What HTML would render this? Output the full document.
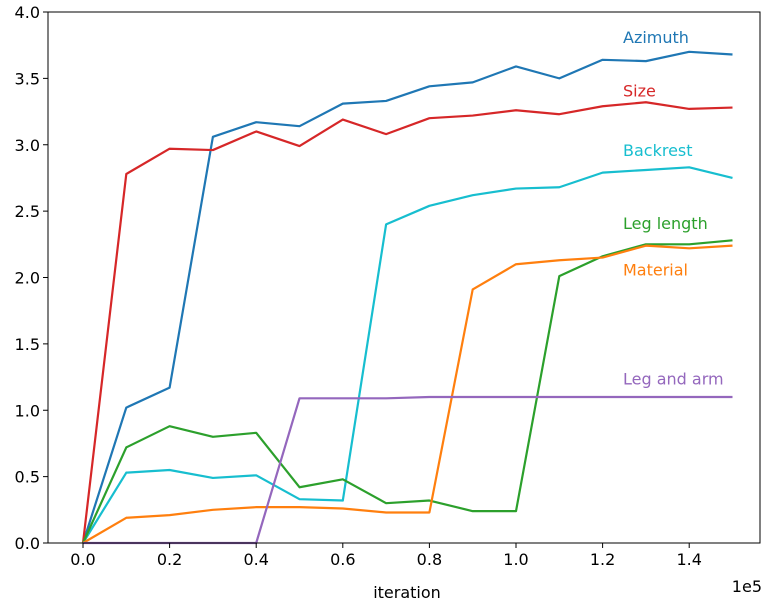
<!DOCTYPE html>
<html><head><meta charset="utf-8"><style>
body{margin:0;background:#fff;}
svg{font-family:"DejaVu Sans","Liberation Sans",sans-serif;}
</style></head><body>
<svg id="chart" width="775" height="610" viewBox="0 0 775 610" xmlns="http://www.w3.org/2000/svg"></svg>
<script>
const iterations=[0,0.1,0.2,0.3,0.4,0.5,0.6,0.7,0.8,0.9,1.0,1.1,1.2,1.3,1.4,1.5];
const azimuth=[0,1.02,1.17,3.06,3.17,3.14,3.31,3.33,3.44,3.47,3.59,3.50,3.64,3.63,3.70,3.68];
const size=[0,2.78,2.97,2.96,3.10,2.99,3.19,3.08,3.20,3.22,3.26,3.23,3.29,3.32,3.27,3.28];
const backrest=[0,0.53,0.55,0.49,0.51,0.33,0.32,2.40,2.54,2.62,2.67,2.68,2.79,2.81,2.83,2.75];
const legLength=[0,0.72,0.88,0.80,0.83,0.42,0.48,0.30,0.32,0.24,0.24,2.01,2.16,2.25,2.25,2.28];
const material=[0,0.19,0.21,0.25,0.27,0.27,0.26,0.23,0.23,1.91,2.10,2.13,2.15,2.24,2.22,2.24];
const legAndArm=[0,0,0,0,0,1.09,1.09,1.09,1.10,1.10,1.10,1.10,1.10,1.10,1.10,1.10];
const xTicks=[0,0.2,0.4,0.6,0.8,1.0,1.2,1.4];
const yTicks=[0,0.5,1.0,1.5,2.0,2.5,3.0,3.5,4.0];
const seriesNames=["Azimuth","Size","Backrest","Leg length","Material","Leg and arm"];
const seriesData=[azimuth,size,backrest,legLength,material,legAndArm];
const seriesColors=["#1f77b4","#d62728","#17becf","#2ca02c","#ff7f0e","#9467bd"];
const labelY=[3.81,3.41,2.96,2.41,2.06,1.24];

const svg=document.getElementById('chart');
const NS='http://www.w3.org/2000/svg';
const L=48,R=760,T=12,B=543;
const xs=v=>83+v*433;
const ys=v=>B-(v/4)*(B-T);
function mk(tag,attrs,parent){const e=document.createElementNS(NS,tag);for(const k in attrs)e.setAttribute(k,attrs[k]);(parent||svg).appendChild(e);return e;}

const plot=mk('g',{});


seriesData.forEach((d,i)=>{
  const p=mk('polyline',{points:d.map((v,j)=>xs(iterations[j])+','+ys(v)).join(' '),fill:'none',stroke:seriesColors[i],'stroke-width':2.2,'stroke-linejoin':'round'},plot);
  
  
  const t=mk('text',{x:623,y:ys(labelY[i])+6,fill:seriesColors[i],'font-size':16},plot);
  t.textContent=seriesNames[i];
  
  
});
const frame=mk('rect',{x:L,y:T,width:R-L,height:B-T,fill:'none',stroke:'#000','stroke-width':1});


xTicks.forEach(v=>{
  const x=xs(v);
  mk('line',{x1:x,y1:B,x2:x,y2:B+5,stroke:'#000'});
  const t=mk('text',{x:x,y:B+22,'text-anchor':'middle','font-size':16});
  t.textContent=v.toFixed(1);
  
  
});
yTicks.forEach(v=>{
  const y=ys(v);
  mk('line',{x1:L-5,y1:y,x2:L,y2:y,stroke:'#000'});
  const t=mk('text',{x:L-8,y:y+6,'text-anchor':'end','font-size':16});
  t.textContent=v.toFixed(1);
  
  
});
const xt=mk('text',{x:407,y:598,'text-anchor':'middle','font-size':16});
xt.textContent='iteration';


const ex=mk('text',{x:762,y:592,'text-anchor':'end','font-size':16});
ex.textContent='1e5';


</script>
</body></html>
